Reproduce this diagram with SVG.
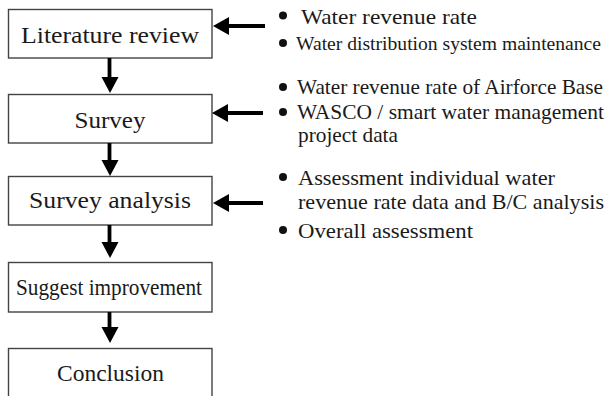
<svg xmlns="http://www.w3.org/2000/svg" width="609" height="396" viewBox="0 0 609 396">
  <style>
    .box { fill: #ffffff; stroke: #444444; stroke-width: 1.4; }
    .label { font-family: "Liberation Serif", "DejaVu Serif", serif; font-size: 24px; fill: #1a1a1a; text-anchor: middle; }
    .note { font-family: "Liberation Serif", "DejaVu Serif", serif; font-size: 21px; fill: #1a1a1a; }
    .note.tight { font-size: 19.5px; }
    .bullet { fill: #111111; }
    .shaft { stroke: #000000; stroke-width: 3.8; fill: none; }
    .head { fill: #000000; }
  </style>
  <rect width="609" height="396" fill="#ffffff"/>

  <!-- process steps -->
  <g id="literature-review">
    <rect class="box" x="8.5" y="9.5" width="203.5" height="48.5"/>
    <text class="label" x="110" y="43" textLength="178" lengthAdjust="spacingAndGlyphs">Literature review</text>
  </g>
  <g id="survey">
    <rect class="box" x="8.5" y="94.5" width="203.5" height="48.5"/>
    <text class="label" x="110" y="128" textLength="71" lengthAdjust="spacingAndGlyphs">Survey</text>
  </g>
  <g id="survey-analysis">
    <rect class="box" x="8.5" y="176.5" width="203.5" height="48.5"/>
    <text class="label" x="110" y="208" textLength="162" lengthAdjust="spacingAndGlyphs">Survey analysis</text>
  </g>
  <g id="suggest-improvement">
    <rect class="box" x="8.5" y="262.5" width="203.5" height="49.5"/>
    <text class="label" x="109" y="295" textLength="186" lengthAdjust="spacingAndGlyphs">Suggest improvement</text>
  </g>
  <g id="conclusion">
    <rect class="box" x="8.5" y="348.5" width="203.5" height="50"/>
    <text class="label" x="110.5" y="381" textLength="107" lengthAdjust="spacingAndGlyphs">Conclusion</text>
  </g>

  <!-- input notes -->
  <g id="notes-literature">
    <circle class="bullet" cx="283" cy="15.5" r="4"/>
    <text class="note" x="301" y="23.5" textLength="176" lengthAdjust="spacingAndGlyphs">Water revenue rate</text>
    <circle class="bullet" cx="283" cy="43" r="4"/>
    <text class="note tight" x="296" y="50" textLength="305" lengthAdjust="spacingAndGlyphs">Water distribution system maintenance</text>
  </g>
  <g id="notes-survey">
    <circle class="bullet" cx="283" cy="87" r="4"/>
    <text class="note" x="297" y="94" textLength="306" lengthAdjust="spacingAndGlyphs">Water revenue rate of Airforce Base</text>
    <circle class="bullet" cx="283" cy="112" r="4"/>
    <text class="note" x="297" y="119" textLength="307" lengthAdjust="spacingAndGlyphs">WASCO / smart water management</text>
    <text class="note" x="298" y="141.5" textLength="100" lengthAdjust="spacingAndGlyphs">project data</text>
  </g>
  <g id="notes-analysis">
    <circle class="bullet" cx="283" cy="177" r="4"/>
    <text class="note" x="298" y="185" textLength="257" lengthAdjust="spacingAndGlyphs">Assessment individual water</text>
    <text class="note" x="298" y="209" textLength="306" lengthAdjust="spacingAndGlyphs">revenue rate data and B/C analysis</text>
    <circle class="bullet" cx="283" cy="230" r="4"/>
    <text class="note" x="298" y="238" textLength="175" lengthAdjust="spacingAndGlyphs">Overall assessment</text>
  </g>

  <!-- connectors -->
  <g id="connectors">
    <!-- flow downwards -->
    <line class="shaft" x1="109.5" y1="58" x2="109.5" y2="78"/>
    <polygon class="head" points="101.5,77 118.5,77 110,93"/>
    <line class="shaft" x1="109.5" y1="143" x2="109.5" y2="161"/>
    <polygon class="head" points="101.5,160 118.5,160 110,176"/>
    <line class="shaft" x1="109.5" y1="225" x2="109.5" y2="243"/>
    <polygon class="head" points="101.5,242 118.5,242 110,258"/>
    <line class="shaft" x1="109.5" y1="312" x2="109.5" y2="328"/>
    <polygon class="head" points="101.5,327 118.5,327 110,343"/>
    <!-- inputs from the notes -->
    <line class="shaft" x1="228" y1="26" x2="265" y2="26"/>
    <polygon class="head" points="213,26 229,17 229,35"/>
    <line class="shaft" x1="227" y1="113" x2="263" y2="113"/>
    <polygon class="head" points="212,113 228,104 228,122"/>
    <line class="shaft" x1="228" y1="203" x2="263" y2="203"/>
    <polygon class="head" points="213,203 229,194 229,212"/>
  </g>
</svg>
